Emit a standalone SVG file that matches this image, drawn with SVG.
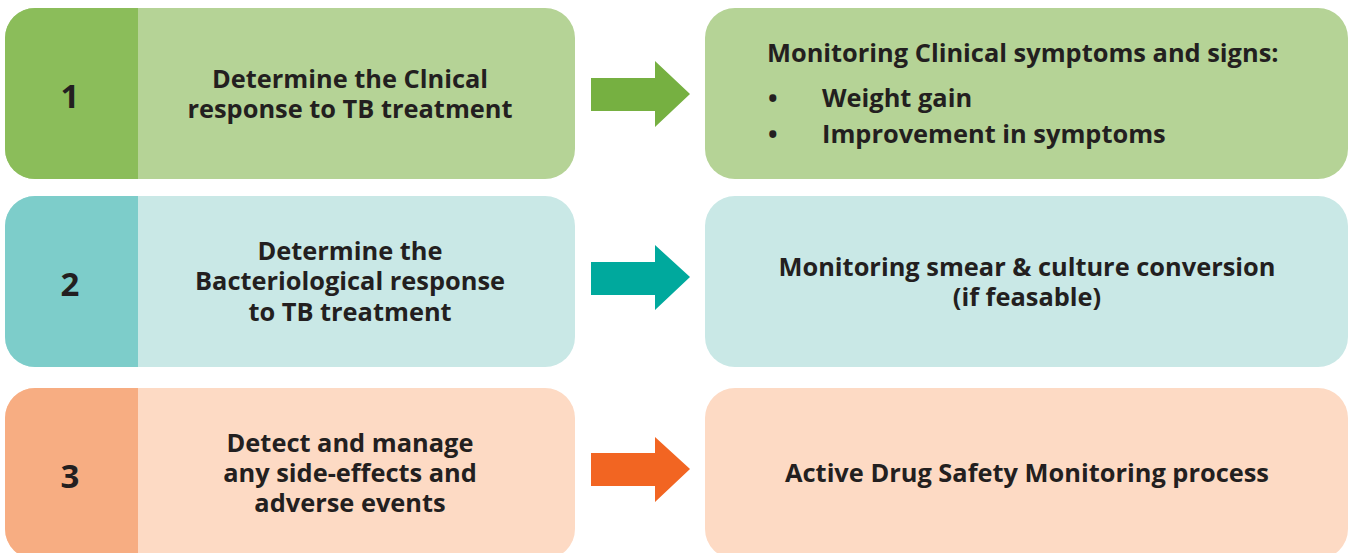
<svg xmlns="http://www.w3.org/2000/svg" width="1352" height="553" viewBox="0 0 1352 553">
<defs>
<style>
text{font-family:"Open Sans","Noto Sans","Liberation Sans",sans-serif;font-weight:700;fill:#231f20;}
.t{font-size:25.4px;text-anchor:middle;}
.s{font-size:25.4px;}
.n{font-size:33px;text-anchor:middle;}
.g1{fill:#8bbd5a}.l1{fill:#b5d396}.a1{fill:#76b041}
.g2{fill:#7dcdca}.l2{fill:#c9e8e6}.a2{fill:#00a99d}
.g3{fill:#f7ad82}.l3{fill:#fddac4}.a3{fill:#f26522}
</style>
<clipPath id="c1"><rect x="5" y="8" width="570" height="171" rx="30"/></clipPath>
<clipPath id="c2"><rect x="5" y="196" width="570" height="171" rx="30"/></clipPath>
<clipPath id="c3"><rect x="5" y="388" width="570" height="171" rx="30"/></clipPath>
</defs>
<rect width="1352" height="553" fill="#fff"/>
<g id="step1">
<g clip-path="url(#c1)"><rect class="l1" x="5" y="8" width="570" height="171"/><rect class="g1" x="5" y="8" width="133" height="171"/></g>
<text class="n" x="70" y="108">1</text>
<text class="t" x="350" y="88">Determine the Clnical</text>
<text class="t" x="350" y="118">response to TB treatment</text>
</g>
<g id="result1">
<rect class="l1" x="705" y="8" width="643" height="171" rx="30"/>
<text class="s" x="767" y="62">Monitoring Clinical symptoms and signs:</text>
<text class="s" x="768" y="107">•</text>
<text class="s" x="822" y="107">Weight gain</text>
<text class="s" x="768" y="143">•</text>
<text class="s" x="822" y="143">Improvement in symptoms</text>
</g>
<g id="step2">
<g clip-path="url(#c2)"><rect class="l2" x="5" y="196" width="570" height="171"/><rect class="g2" x="5" y="196" width="133" height="171"/></g>
<text class="n" x="70" y="296">2</text>
<text class="t" x="350" y="260">Determine the</text>
<text class="t" x="350" y="290">Bacteriological response</text>
<text class="t" x="350" y="321">to TB treatment</text>
</g>
<g id="result2">
<rect class="l2" x="705" y="196" width="643" height="171" rx="30"/>
<text class="t" x="1027" y="276">Monitoring smear &amp; culture conversion</text>
<text class="t" x="1027" y="306">(if feasable)</text>
</g>
<g id="step3">
<g clip-path="url(#c3)"><rect class="l3" x="5" y="388" width="570" height="171"/><rect class="g3" x="5" y="388" width="133" height="171"/></g>
<text class="n" x="70" y="488">3</text>
<text class="t" x="350" y="452">Detect and manage</text>
<text class="t" x="350" y="482">any side-effects and</text>
<text class="t" x="350" y="512">adverse events</text>
</g>
<g id="result3">
<rect class="l3" x="705" y="388" width="643" height="171" rx="30"/>
<text class="t" x="1027" y="482">Active Drug Safety Monitoring process</text>
</g>
<g id="connectors">
<polygon class="a1" points="591,78 655,78 655,61 690,94 655,127 655,111 591,111"/>
<polygon class="a2" points="591,262 655,262 655,245 690,277 655,310 655,295 591,295"/>
<polygon class="a3" points="591,453 655,453 655,437 690,469 655,502 655,486 591,486"/>
</g>
</svg>
